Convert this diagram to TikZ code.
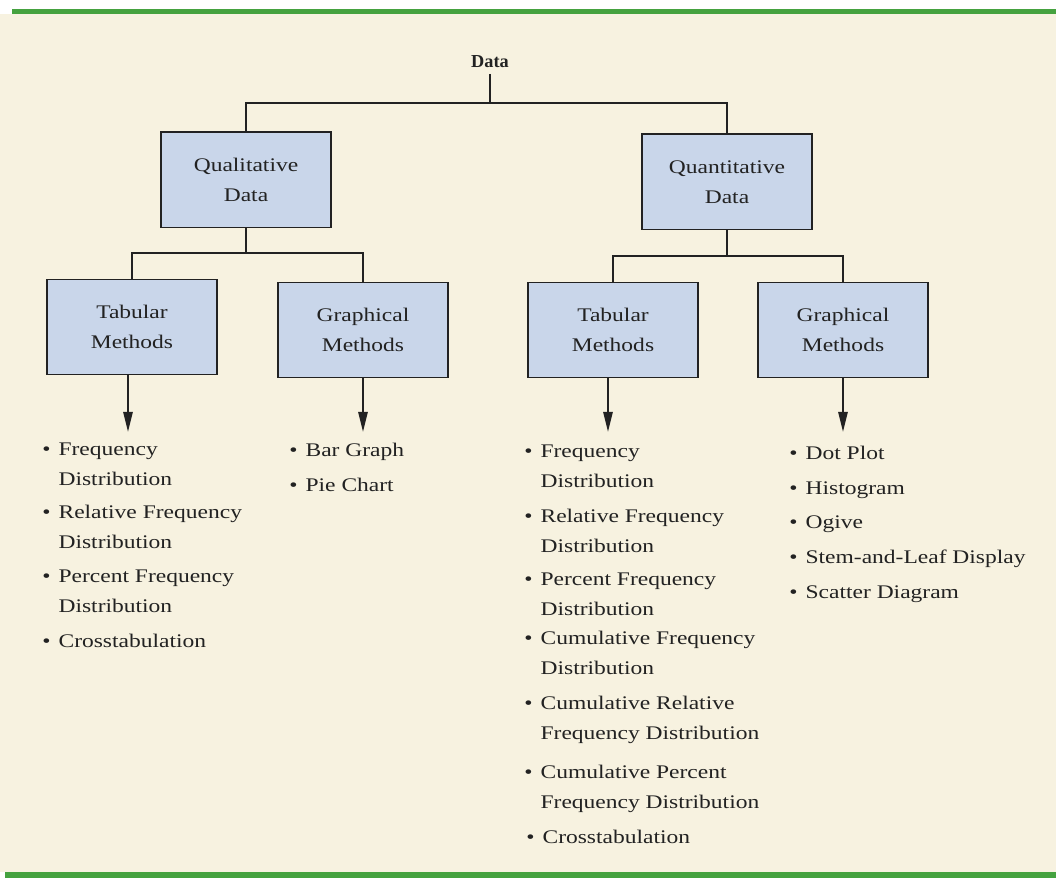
\documentclass[tikz,border=0pt]{standalone}
\usepackage{fontspec}
\setmainfont{Liberation Serif}[FakeStretch=1.22]
\newfontfamily\titlefont{Liberation Serif}
\usetikzlibrary{arrows.meta,positioning}
\definecolor{ink}{HTML}{222222}
\definecolor{wash}{HTML}{C9D6EA}
\definecolor{paper}{HTML}{F7F2E0}
\definecolor{rule}{HTML}{45A23F}
\newcommand{\listfont}{\fontsize{13.7}{21.3}\selectfont}
\newcommand{\itemdot}{\textbullet\hspace{0.42em}}
\newcommand{\indentdot}{\phantom{\itemdot}}
\tikzset{box/.style={draw=ink,line width=1.4pt,fill=wash,align=center,font=\listfont,text=ink,minimum width=4.25cm,minimum height=2.375cm}, entry/.style={anchor=base west,align=left,inner sep=0pt,font=\listfont,text=ink}, link/.style={draw=ink,line width=1.4pt}, arr/.style={-{Triangle[length=5mm,width=2.3mm]},draw=ink,line width=1.4pt}}
\begin{document}
\begin{tikzpicture}[x=0.025cm,y=-0.025cm]
\useasboundingbox (0,0) rectangle (1056,878);
\fill[paper] (0,14) rectangle (1056,872);
\fill[rule] (12,9) rectangle (1056,14);
\fill[rule] (5,872) rectangle (1056,878);
% tree
\node[font=\titlefont\bfseries\fontsize{13}{15}\selectfont,text=ink,inner sep=4pt] (d) at (490,62){Data};
\node[box] (ql) at (246,180){Qualitative\\Data};
\node[box] (qn) at (727,182){Quantitative\\Data};
\node[box] (tl) at (132,327){Tabular\\Methods};
\node[box] (gl) at (363,330){Graphical\\Methods};
\node[box] (tr) at (613,330){Tabular\\Methods};
\node[box] (gr) at (843,330){Graphical\\Methods};
\coordinate (j1) at (490,103);
\coordinate (j2) at (246,253);
\coordinate (j3) at (727,256);
\draw[link] (d)--(j1);
\draw[link] (ql)|-(j1)-|(qn);
\draw[link] (ql)--(j2);
\draw[link] (tl)|-(j2)-|(gl);
\draw[link] (qn)--(j3);
\draw[link] (tr)|-(j3)-|(gr);
% arrows to the lists
\coordinate (tla) at (128,432);
\coordinate (gla) at (363,432);
\coordinate (tra) at (608,432);
\coordinate (gra) at (843,432);
\draw[arr] (tl.south -| tla)--(tla);
\draw[arr] (gl.south -| gla)--(gla);
\draw[arr] (tr.south -| tra)--(tra);
\draw[arr] (gr.south -| gra)--(gra);
% qualitative lists (two-line entries sit on their last baseline)
\node[entry] (ql1) at (42,485){\itemdot Frequency\\\indentdot Distribution};
\node[entry] (ql2) at (42,548){\itemdot Relative Frequency\\\indentdot Distribution};
\node[entry] (ql3) at (42,612){\itemdot Percent Frequency\\\indentdot Distribution};
\node[entry] (ql4) at (42,647){\itemdot Crosstabulation};
\node[entry] (gl1) at (289,456){\itemdot Bar Graph};
\node[entry] (gl2) at (289,491){\itemdot Pie Chart};
% quantitative lists
\node[entry] (tr1) at (524,487){\itemdot Frequency\\\indentdot Distribution};
\node[entry] (tr2) at (524,552){\itemdot Relative Frequency\\\indentdot Distribution};
\node[entry] (tr3) at (524,615){\itemdot Percent Frequency\\\indentdot Distribution};
\node[entry] (tr4) at (524,674){\itemdot Cumulative Frequency\\\indentdot Distribution};
\node[entry] (tr5) at (524,739){\itemdot Cumulative Relative\\\indentdot Frequency Distribution};
\node[entry] (tr6) at (524,808){\itemdot Cumulative Percent\\\indentdot Frequency Distribution};
\node[entry] (tr7) at (526,843){\itemdot Crosstabulation};
\node[entry] (gr1) at (789,459){\itemdot Dot Plot};
\node[entry] (gr2) at (789,494){\itemdot Histogram};
\node[entry] (gr3) at (789,528){\itemdot Ogive};
\node[entry] (gr4) at (789,563){\itemdot Stem-and-Leaf Display};
\node[entry] (gr5) at (789,598){\itemdot Scatter Diagram};
\end{tikzpicture}
\end{document}
